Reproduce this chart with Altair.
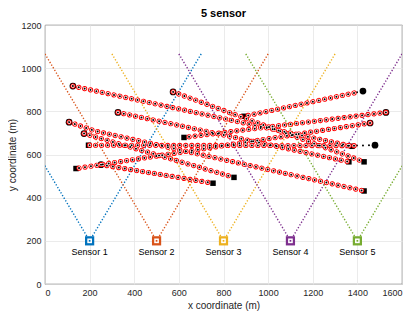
import altair as alt
import pandas as pd

# ---------------- data ----------------
x_ticks = [0, 200, 400, 600, 800, 1000, 1200, 1400, 1600]
y_ticks = [0, 200, 400, 600, 800, 1000, 1200]

sensor_names = ["Sensor 1", "Sensor 2", "Sensor 3", "Sensor 4", "Sensor 5"]
sensor_x = [200, 500, 800, 1100, 1400]
sensor_y = [200, 200, 200, 200, 200]
sensor_colors = ["#0072BD", "#D95319", "#EDB120", "#7E2F8E", "#77AC30"]

# field-of-view edges (dotted V from each sensor)
fov_left_x = [-300, 0, 300, 600, 900]
fov_right_x = [700, 1000, 1300, 1600, 1900]
fov_top_y = [1066, 1066, 1066, 1066, 1066]

# estimated track paths (waypoints)
track_x = [[125, 1376], [574, 1430], [327, 1362], [108, 224, 1430], [175, 847],
           [251, 753], [1385, 892], [1528, 623], [1457, 139], [1385, 195]]
track_y = [[917, 638], [890, 566], [795, 566], [750, 709, 431], [697, 494],
           [553, 467], [885, 777], [795, 679], [746, 535], [641, 643]]

# truth-only lead-in segments (before the track was established)
lead_x = [[1425, 1385], [1479, 1385]]
lead_y = [[894, 885], [643, 641]]

# start (circle) and end (square) positions of the targets
start_x = [125, 574, 327, 108, 175, 251, 1425, 1528, 1457, 1479]
start_y = [917, 890, 795, 750, 697, 553, 894, 795, 746, 643]
end_x = [1376, 1430, 1362, 1430, 847, 753, 892, 623, 139, 195]
end_y = [638, 566, 566, 431, 494, 467, 777, 679, 535, 643]

# ---------------- tables ----------------
sensors = pd.DataFrame({"name": sensor_names, "x": sensor_x, "y": sensor_y})

fov_rows = []
for i, n in enumerate(sensor_names):
    fov_rows.append({"name": n, "seq": 0, "x": fov_left_x[i], "y": fov_top_y[i]})
    fov_rows.append({"name": n, "seq": 1, "x": sensor_x[i], "y": sensor_y[i]})
    fov_rows.append({"name": n, "seq": 2, "x": fov_right_x[i], "y": fov_top_y[i]})
fov = pd.DataFrame(fov_rows)

trk_rows = []
for t, (xs, ys) in enumerate(zip(track_x, track_y)):
    for j, (a, b) in enumerate(zip(xs, ys)):
        trk_rows.append({"track": t, "seq": j, "x": a, "y": b})
tracks = pd.DataFrame(trk_rows)

lead_rows = []
for t, (xs, ys) in enumerate(zip(lead_x, lead_y)):
    for j, (a, b) in enumerate(zip(xs, ys)):
        lead_rows.append({"track": t, "seq": j, "x": a, "y": b})
leads = pd.DataFrame(lead_rows)

starts = pd.DataFrame({"x": start_x, "y": start_y})
ends = pd.DataFrame({"x": end_x, "y": end_y})

FONT = "Liberation Sans"


def X():
    return alt.X("x:Q", scale=alt.Scale(domain=[0, 1600], nice=False, zero=False),
                 axis=alt.Axis(values=x_ticks, format="d", title="x coordinate (m)"))


def Y():
    return alt.Y("y:Q", scale=alt.Scale(domain=[0, 1200], nice=False, zero=False),
                 axis=alt.Axis(values=y_ticks, format="d", title="y coordinate (m)"))


color_scale = alt.Scale(domain=sensor_names, range=sensor_colors)

fov_layer = alt.Chart(fov).mark_line(
    strokeWidth=1.4, strokeDash=[1.3, 1.8], clip=True
).encode(x=X(), y=Y(), detail="name:N", order="seq:Q",
         color=alt.Color("name:N", scale=color_scale, legend=None))

sensor_outer = alt.Chart(sensors).mark_point(
    shape="square", filled=True, size=85, opacity=1
).encode(x=X(), y=Y(), color=alt.Color("name:N", scale=color_scale, legend=None))

sensor_inner = alt.Chart(sensors).mark_point(
    shape="square", filled=True, size=22, color="white", opacity=1
).encode(x=X(), y=Y())

sensor_dot = alt.Chart(sensors).mark_point(
    shape="square", filled=True, size=3, opacity=1
).encode(x=X(), y=Y(), color=alt.Color("name:N", scale=color_scale, legend=None))

sensor_text = alt.Chart(sensors).mark_text(
    dy=11, fontSize=9, font=FONT, color="black"
).encode(x=X(), y=Y(), text="name:N")

start_marks = alt.Chart(starts).mark_point(
    shape="circle", filled=True, size=45, color="black", opacity=1
).encode(x=X(), y=Y())

end_marks = alt.Chart(ends).mark_point(
    shape="square", filled=True, size=30, color="black", opacity=1
).encode(x=X(), y=Y())

dash = [0.01, 6]

lead_dots = alt.Chart(leads).mark_line(
    color="black", strokeWidth=2, strokeDash=dash, strokeCap="round"
).encode(x=X(), y=Y(), detail="track:N", order="seq:Q")

ring_red = alt.Chart(tracks).mark_line(
    color="#FF0000", strokeWidth=5.2, strokeDash=dash, strokeCap="round"
).encode(x=X(), y=Y(), detail="track:N", order="seq:Q")

ring_white = alt.Chart(tracks).mark_line(
    color="white", strokeWidth=3.4, strokeDash=dash, strokeCap="round"
).encode(x=X(), y=Y(), detail="track:N", order="seq:Q")

truth_dots = alt.Chart(tracks).mark_line(
    color="black", strokeWidth=2, strokeDash=dash, strokeCap="round"
).encode(x=X(), y=Y(), detail="track:N", order="seq:Q")

chart = alt.layer(
    fov_layer, sensor_outer, sensor_inner, sensor_dot, sensor_text,
    start_marks, end_marks, lead_dots, ring_red, ring_white, truth_dots
).properties(
    width=357, height=259,
    title=alt.TitleParams("5 sensor", fontSize=11, fontWeight="bold", font=FONT,
                          color="black", offset=2),
    autosize=alt.AutoSizeParams(type="none"),
    padding={"left": 37, "top": 17, "right": 5, "bottom": 30},
).configure_view(
    stroke="#262626", strokeWidth=0.8
).configure_axis(
    grid=True, gridColor="#e6e6e6", gridWidth=0.8, domain=False, ticks=False,
    labelFont=FONT, labelFontSize=9, labelColor="#262626", labelPadding=4,
    titleFont=FONT, titleFontSize=10, titleFontWeight="normal", titleColor="#262626",
    titlePadding=3
)

chart.save("out.html", embed_options={"renderer": "svg", "actions": False})
